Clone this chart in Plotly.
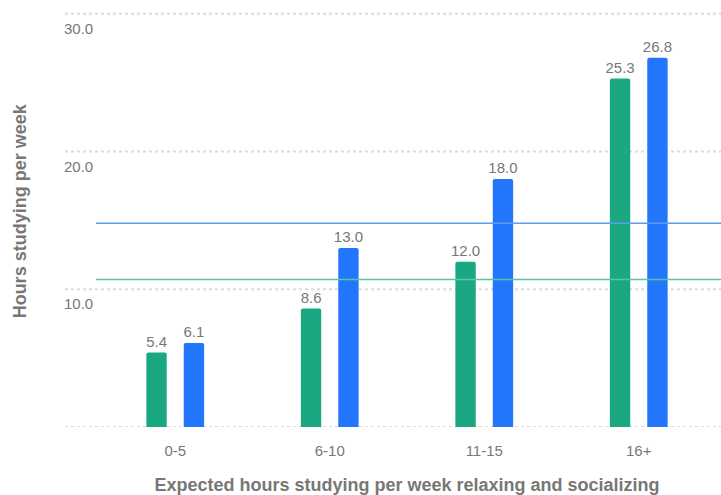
import plotly.graph_objects as go

categories = ["0-5", "6-10", "11-15", "16+"]
series_a = [5.4, 8.6, 12.0, 25.3]
series_b = [6.1, 13.0, 18.0, 26.8]
ref_a = 10.7
ref_b = 14.8
grid_values = [0, 10, 20, 30]
tick_values = [10, 20, 30]
tick_labels = ["10.0", "20.0", "30.0"]

TEAL = "#1aa882"
BLUE = "#2176fb"
GRAY = "#777777"
FONT = "Liberation Sans, Arial, sans-serif"

W, H = 721, 495
ML, MR, MT, MB = 98, 5, 0, 68
PW = W - ML - MR

def px_to_paper(x):
    return (x - ML) / PW

fig = go.Figure()
for vals, color in [(series_a, TEAL), (series_b, BLUE)]:
    fig.add_trace(go.Bar(
        x=categories, y=vals,
        marker=dict(color=color, cornerradius=2, line=dict(width=0)),
        text=[f"{v:.1f}" for v in vals],
        textposition="outside",
        constraintext="none",
        textfont=dict(color=GRAY, size=15, family=FONT),
        cliponaxis=False,
        hoverinfo="skip",
    ))

shapes = []
for g in grid_values:
    shapes.append(dict(type="line", xref="paper", yref="y",
                       x0=px_to_paper(65), x1=px_to_paper(721), y0=g, y1=g,
                       line=dict(color="#dcdcdc", width=2, dash="dot"), layer="below"))
shapes.append(dict(type="line", xref="paper", yref="y",
                   x0=px_to_paper(96), x1=px_to_paper(721), y0=ref_b, y1=ref_b,
                   line=dict(color="#5c9cf2", width=1.5), layer="above"))
shapes.append(dict(type="line", xref="paper", yref="y",
                   x0=px_to_paper(96), x1=px_to_paper(721), y0=ref_a, y1=ref_a,
                   line=dict(color="#5cc4a4", width=1.5), layer="above"))

annotations = []
for v, lab in zip(tick_values, tick_labels):
    annotations.append(dict(xref="paper", yref="y", x=px_to_paper(62), y=v,
                            text=lab, showarrow=False, xanchor="left", yanchor="top",
                            yshift=-4, font=dict(color=GRAY, size=15, family=FONT)))
annotations.append(dict(xref="paper", yref="paper", x=px_to_paper(20), y=0.505,
                        text="<b>Hours studying per week</b>", textangle=-90,
                        showarrow=False, xanchor="center", yanchor="middle",
                        font=dict(size=18, color=GRAY, family=FONT)))

fig.update_layout(
    width=W, height=H,
    margin=dict(l=ML, r=MR, t=MT, b=MB),
    paper_bgcolor="white", plot_bgcolor="white",
    barmode="group", bargap=0.516, bargroupgap=0.455,
    showlegend=False,
    shapes=shapes, annotations=annotations,
    font=dict(family=FONT, color=GRAY),
    xaxis=dict(
        showgrid=False, zeroline=False, showline=False,
        ticks="outside", ticklen=10, tickcolor="rgba(0,0,0,0)",
        tickfont=dict(size=15, color=GRAY, family=FONT),
        title=dict(text="<b>Expected hours studying per week relaxing and socializing</b>",
                   font=dict(size=18, color=GRAY, family=FONT), standoff=20),
    ),
    yaxis=dict(
        range=[0, 31], showgrid=False, zeroline=False, showline=False,
        showticklabels=False,
    ),
)

fig.write_html("out.html", config={"displayModeBar": False},
               post_script="document.body.style.margin='0';document.body.style.overflow='hidden';")
